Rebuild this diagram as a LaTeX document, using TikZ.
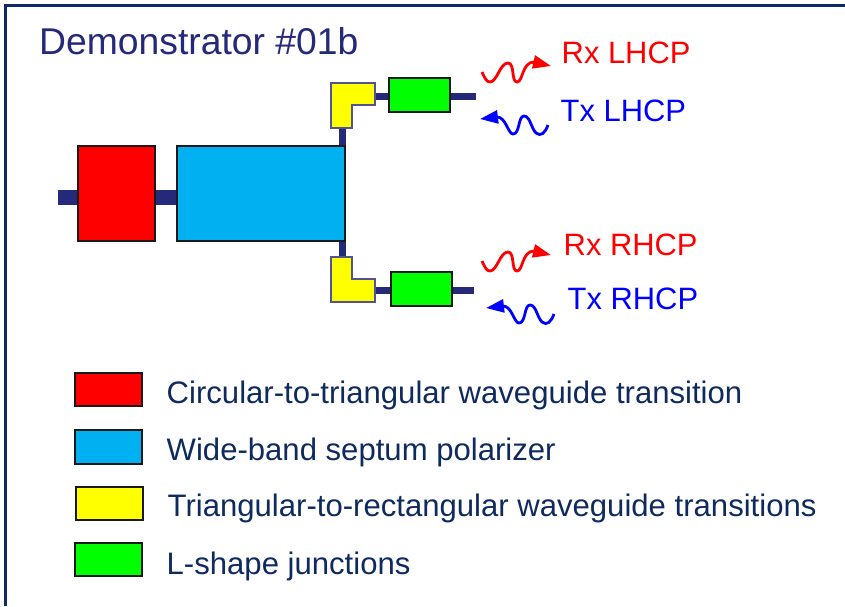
\documentclass[tikz,border=0pt]{standalone}
\usepackage{fontspec}
\setmainfont{Liberation Sans}
\usetikzlibrary{arrows.meta}
\definecolor{wgc}{HTML}{24297A}
\definecolor{framec}{HTML}{0F2A6B}
\definecolor{legc}{HTML}{0F2A5F}
\definecolor{cyanb}{HTML}{00B0F0}
\definecolor{greenb}{HTML}{00FF00}
\definecolor{yellowb}{HTML}{FFFF00}
\definecolor{redb}{HTML}{FF0000}
\definecolor{blueb}{HTML}{0000FF}
\tikzset{
 x=1pt,y=-1pt,
 block/.style={draw=black!90,line width=1.6pt,minimum width=0pt,minimum height=0pt,inner sep=0pt,anchor=north west},
 wg/.style={draw=wgc,line width=#1},
 wg/.default=7pt,
 ell/.style={draw=wgc!80,fill=yellowb,line width=1.2pt,line join=miter},
 wave/.style={line width=2.8pt,-{Triangle[length=18pt,width=13pt]}},
 ttl/.style={anchor=base west,inner sep=0pt,text=wgc,font=\fontsize{37.3}{37.3}\selectfont},
 sig/.style={anchor=base west,inner sep=0pt,font=\fontsize{30.9}{30.9}\selectfont},
 leg/.style={anchor=base west,inner sep=0pt,text=legc,font=\fontsize{31.1}{31.1}\selectfont},
}
\newcommand{\blk}[6]{\node[block,fill=#6,minimum width=#4pt-#2pt,minimum height=#5pt-#3pt] (#1) at (#2-0.8,#3-0.8) {};}
\newcommand{\rxwave}[1]{\draw[wave,redb,shift={#1}] (482,72) .. controls (485,79) and (487,82) .. (490,82) .. controls (497,82) and (500,63) .. (508,63) .. controls (515,63) and (511,82) .. (517,82) .. controls (523,82) and (522,62) .. (534,62) -- (551,66);}
\newcommand{\txwave}[1]{\draw[wave,blueb,shift={#1}] (548,125) .. controls (545,133) and (541,137) .. (536,133) .. controls (531,128) and (530,116) .. (524,116) .. controls (518,116) and (520,134) .. (513,134) .. controls (508,134) and (506,117) .. (497,117) -- (480,119);}
\begin{document}
\begin{tikzpicture}
\useasboundingbox (0,0) rectangle (845,606);
\draw[framec,line width=3pt] (5,606) -- (5,5) -- (845,5);
\coordinate (inEnd) at (58,197);
\coordinate (topEnd) at (476,96.5);
\coordinate (botEnd) at (474,290);
\coordinate (ytTop) at (342,128);
\coordinate (ytRight) at (375,96.5);
\coordinate (ybTop) at (342,257);
\coordinate (ybRight) at (375,290);
\blk{red}{78}{146}{155}{241}{redb}
\blk{blue}{177}{146}{345}{241}{cyanb}
\blk{gt}{389}{78}{450}{112}{greenb}
\blk{gb}{391}{272}{452}{306}{greenb}
\draw[wg=15pt] (inEnd) -- (inEnd -| red.west);
\draw[wg=15pt] (inEnd -| red.east) -- (inEnd -| blue.west);
\draw[wg] (ytTop) -- (ytTop |- blue.north);
\draw[wg] (ybTop) -- (ybTop |- blue.south);
\draw[wg] (ytRight) -- (gt.west |- ytRight);
\draw[wg] (ybRight) -- (gb.west |- ybRight);
\draw[wg] (gt.east |- topEnd) -- (topEnd);
\draw[wg] (gb.east |- botEnd) -- (botEnd);
\draw[ell] (331,83) -- (375,83) -- (375,105) -- (352,105) -- (352,128) -- (331,128) -- cycle;
\draw[ell] (331,257) -- (352,257) -- (352,279) -- (375,279) -- (375,302) -- (331,302) -- cycle;
\node[ttl] (title) at (39,54) {Demonstrator \#01b};
\rxwave{(0,0)}
\txwave{(0,0)}
\rxwave{(0,189)}
\txwave{(6,189)}
\node[sig,text=redb] (rxl) at (561.5,63.7) {Rx LHCP};
\node[sig,text=blueb] (txl) at (560.5,121.7) {Tx LHCP};
\node[sig,text=redb] (rxr) at (563.5,255.7) {Rx RHCP};
\node[sig,text=blueb] (txr) at (567.5,309.7) {Tx RHCP};
\blk{k1}{75}{373}{142}{406}{redb}
\blk{k2}{75}{430}{142}{464}{cyanb}
\blk{k3}{76}{487}{143}{520}{yellowb}
\blk{k4}{75}{543}{142}{576}{greenb}
\node[leg] (l1) at (166.5,403) {Circular-to-triangular waveguide transition};
\node[leg] (l2) at (166.5,460) {Wide-band septum polarizer};
\node[leg] (l3) at (167.5,516) {Triangular-to-rectangular waveguide transitions};
\node[leg] (l4) at (166.5,574) {L-shape junctions};
\end{tikzpicture}
\end{document}
